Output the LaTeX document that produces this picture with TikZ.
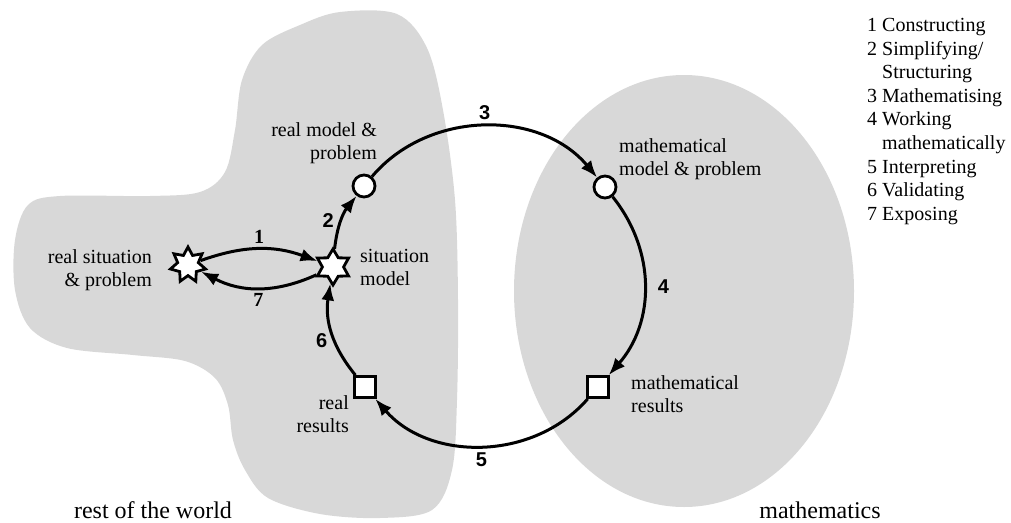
\documentclass[tikz,border=0pt]{standalone}
\usepackage{fontspec}
\setmainfont{Liberation Serif}
\newfontfamily\numfont{Liberation Sans}
\usepackage{tikz}
\usetikzlibrary{arrows.meta,positioning,shapes.geometric}
\definecolor{blob}{RGB}{216,216,216}
\newcommand{\indt}{\hphantom{0 }}

\begin{document}
\begin{tikzpicture}[x=1pt, y=-1pt,
  starnode/.style={star, star point ratio=1.7, minimum size=36pt, inner sep=0pt, draw, fill=white, line width=2.8pt},
  circnode/.style={circle, minimum size=22pt, inner sep=0pt, draw, fill=white, line width=2.8pt},
  sqnode/.style={rectangle, minimum size=21pt, inner sep=0pt, draw, fill=white, line width=2.8pt},
  flow/.style={line width=3pt, -{Latex[length=17pt,width=13pt]}},
  numlab/.style={font=\numfont\bfseries\fontsize{20}{20}\selectfont, inner sep=0pt},
  serlab/.style={font=\bfseries\fontsize{20}{20}\selectfont, inner sep=0pt},
  lab/.style={font=\fontsize{20}{23}\selectfont, inner sep=0pt}]
  \useasboundingbox (0,0) rectangle (1011,522);
  % rest of the world
  \fill[blob] plot[smooth cycle, tension=0.55] coordinates {
    (340,12) (397,14) (427,48) (443,110) (455,200) (458,300) (457,400)
    (452,470) (432,510) (380,518) (320,514) (268,498) (245,470) (233,440)
    (228,405) (215,378) (185,361) (133,355) (67,348) (30,328) (15,290)
    (15,240) (28,205) (60,196) (150,196) (200,192) (225,172) (235,130)
    (242,80) (262,45) (300,25)};
  % mathematics
  \fill[blob] (684,291) ellipse[x radius=170, y radius=216];
  % states
  \node[starnode, star points=7] (rs) at (188,265) {};
  \node[starnode, star points=6] (sm) at (333,267) {};
  \node[circnode] (rm) at (364,186) {};
  \node[circnode] (mm) at (605,187) {};
  \node[sqnode] (mr) at (598,387) {};
  \node[sqnode] (rr) at (365,387) {};
  % state labels
  \node[lab, anchor=east, align=right] (rslab) at (152,270) {real situation\\\& problem};
  \node[lab, anchor=west, align=left] (smlab) at (360,267) {situation\\model};
  \node[lab, anchor=east, align=right] (rmlab) at (377,143) {real model \&\\problem};
  \node[lab, anchor=west, align=left] (mmlab) at (619,159) {mathematical\\model \& problem};
  \node[lab, anchor=west, align=left] (mrlab) at (631,394) {mathematical\\results};
  \node[lab, anchor=east, align=right] (rrlab) at (349,414) {real\\results};
  % cycle
  \draw[flow] (rs) to[bend left=20] node[serlab, above=4pt]{1} (sm);
  \draw[flow] (sm) to[bend left=26] node[serlab, below=4pt]{7} (rs);
  \draw[flow] (sm) to[bend left=16] node[numlab, left=6pt]{2} (rm);
  \draw[flow] (rm) to[bend left=50] node[numlab, above=5pt]{3} (mm);
  \draw[flow] (mm) to[bend left=40] node[numlab, right=12pt]{4} (mr);
  \draw[flow] (mr) to[bend left=49] node[numlab, below=5pt]{5} (rr);
  \draw[flow] (rr) to[bend left=24] node[pos=0.4, numlab, left=6pt]{6} (sm);
  % legend and domains
  \node[lab, anchor=north west, align=left, font=\fontsize{20}{23.6}\selectfont] (legend) at (867,18)
    {1 Constructing\\2 Simplifying/\\\indt Structuring\\3 Mathematising\\4 Working\\\indt mathematically\\5 Interpreting\\6 Validating\\7 Exposing};
  \node[lab, font=\fontsize{24}{24}\selectfont] (world) at (153,510) {rest of the world};
  \node[lab, font=\fontsize{24}{24}\selectfont] (maths) at (820,510) {mathematics};
\end{tikzpicture}
\end{document}
